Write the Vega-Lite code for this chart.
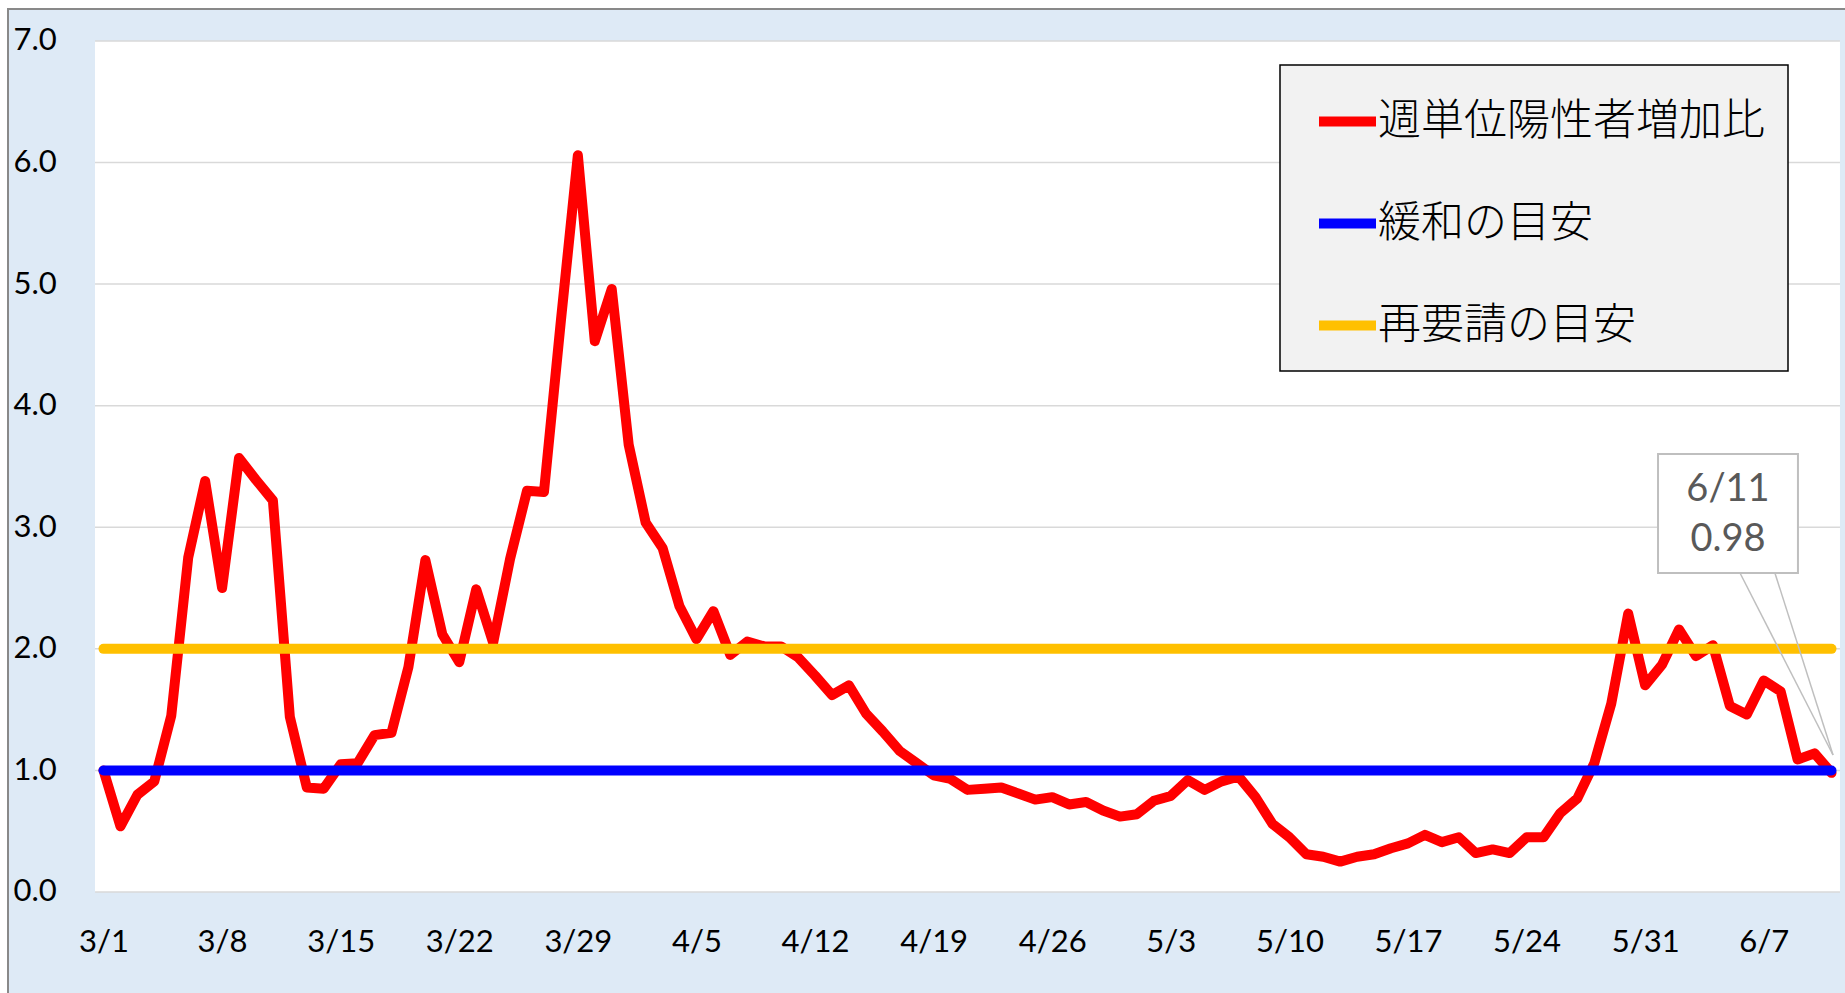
{
  "$schema": "https://vega.github.io/schema/vega-lite/v6.json",
  "width": 1838,
  "height": 985,
  "autosize": {"type": "none"},
  "padding": {"left": 8, "top": 9, "right": 0, "bottom": 0},
  "background": "#FFFFFF",
  "datasets": {
    "ratio": [
      {"date": "3/1", "day": 0, "value": 1.00},
      {"date": "3/2", "day": 1, "value": 0.54},
      {"date": "3/3", "day": 2, "value": 0.80},
      {"date": "3/4", "day": 3, "value": 0.91},
      {"date": "3/5", "day": 4, "value": 1.45},
      {"date": "3/6", "day": 5, "value": 2.75},
      {"date": "3/7", "day": 6, "value": 3.38},
      {"date": "3/8", "day": 7, "value": 2.50},
      {"date": "3/9", "day": 8, "value": 3.57},
      {"date": "3/10", "day": 9, "value": 3.39},
      {"date": "3/11", "day": 10, "value": 3.22},
      {"date": "3/12", "day": 11, "value": 1.44},
      {"date": "3/13", "day": 12, "value": 0.86},
      {"date": "3/14", "day": 13, "value": 0.85},
      {"date": "3/15", "day": 14, "value": 1.05},
      {"date": "3/16", "day": 15, "value": 1.06},
      {"date": "3/17", "day": 16, "value": 1.29},
      {"date": "3/18", "day": 17, "value": 1.31},
      {"date": "3/19", "day": 18, "value": 1.85},
      {"date": "3/20", "day": 19, "value": 2.73},
      {"date": "3/21", "day": 20, "value": 2.12},
      {"date": "3/22", "day": 21, "value": 1.89},
      {"date": "3/23", "day": 22, "value": 2.49},
      {"date": "3/24", "day": 23, "value": 2.05},
      {"date": "3/25", "day": 24, "value": 2.74},
      {"date": "3/26", "day": 25, "value": 3.30},
      {"date": "3/27", "day": 26, "value": 3.29},
      {"date": "3/28", "day": 27, "value": 4.70},
      {"date": "3/29", "day": 28, "value": 6.06},
      {"date": "3/30", "day": 29, "value": 4.53},
      {"date": "3/31", "day": 30, "value": 4.96},
      {"date": "4/1", "day": 31, "value": 3.68},
      {"date": "4/2", "day": 32, "value": 3.04},
      {"date": "4/3", "day": 33, "value": 2.83},
      {"date": "4/4", "day": 34, "value": 2.35},
      {"date": "4/5", "day": 35, "value": 2.08},
      {"date": "4/6", "day": 36, "value": 2.31},
      {"date": "4/7", "day": 37, "value": 1.95},
      {"date": "4/8", "day": 38, "value": 2.06},
      {"date": "4/9", "day": 39, "value": 2.02},
      {"date": "4/10", "day": 40, "value": 2.02},
      {"date": "4/11", "day": 41, "value": 1.93},
      {"date": "4/12", "day": 42, "value": 1.78},
      {"date": "4/13", "day": 43, "value": 1.62},
      {"date": "4/14", "day": 44, "value": 1.70},
      {"date": "4/15", "day": 45, "value": 1.47},
      {"date": "4/16", "day": 46, "value": 1.32},
      {"date": "4/17", "day": 47, "value": 1.16},
      {"date": "4/18", "day": 48, "value": 1.06},
      {"date": "4/19", "day": 49, "value": 0.96},
      {"date": "4/20", "day": 50, "value": 0.93},
      {"date": "4/21", "day": 51, "value": 0.84},
      {"date": "4/22", "day": 52, "value": 0.85},
      {"date": "4/23", "day": 53, "value": 0.86},
      {"date": "4/24", "day": 54, "value": 0.81},
      {"date": "4/25", "day": 55, "value": 0.76},
      {"date": "4/26", "day": 56, "value": 0.78},
      {"date": "4/27", "day": 57, "value": 0.72},
      {"date": "4/28", "day": 58, "value": 0.74},
      {"date": "4/29", "day": 59, "value": 0.67},
      {"date": "4/30", "day": 60, "value": 0.62},
      {"date": "5/1", "day": 61, "value": 0.64},
      {"date": "5/2", "day": 62, "value": 0.75},
      {"date": "5/3", "day": 63, "value": 0.79},
      {"date": "5/4", "day": 64, "value": 0.92},
      {"date": "5/5", "day": 65, "value": 0.84},
      {"date": "5/6", "day": 66, "value": 0.91},
      {"date": "5/7", "day": 67, "value": 0.95},
      {"date": "5/8", "day": 68, "value": 0.78},
      {"date": "5/9", "day": 69, "value": 0.56},
      {"date": "5/10", "day": 70, "value": 0.45},
      {"date": "5/11", "day": 71, "value": 0.31},
      {"date": "5/12", "day": 72, "value": 0.29},
      {"date": "5/13", "day": 73, "value": 0.25},
      {"date": "5/14", "day": 74, "value": 0.29},
      {"date": "5/15", "day": 75, "value": 0.31},
      {"date": "5/16", "day": 76, "value": 0.36},
      {"date": "5/17", "day": 77, "value": 0.40},
      {"date": "5/18", "day": 78, "value": 0.47},
      {"date": "5/19", "day": 79, "value": 0.41},
      {"date": "5/20", "day": 80, "value": 0.45},
      {"date": "5/21", "day": 81, "value": 0.32},
      {"date": "5/22", "day": 82, "value": 0.35},
      {"date": "5/23", "day": 83, "value": 0.32},
      {"date": "5/24", "day": 84, "value": 0.45},
      {"date": "5/25", "day": 85, "value": 0.45},
      {"date": "5/26", "day": 86, "value": 0.65},
      {"date": "5/27", "day": 87, "value": 0.77},
      {"date": "5/28", "day": 88, "value": 1.06},
      {"date": "5/29", "day": 89, "value": 1.55},
      {"date": "5/30", "day": 90, "value": 2.29},
      {"date": "5/31", "day": 91, "value": 1.70},
      {"date": "6/1", "day": 92, "value": 1.87},
      {"date": "6/2", "day": 93, "value": 2.16},
      {"date": "6/3", "day": 94, "value": 1.94},
      {"date": "6/4", "day": 95, "value": 2.03},
      {"date": "6/5", "day": 96, "value": 1.53},
      {"date": "6/6", "day": 97, "value": 1.46},
      {"date": "6/7", "day": 98, "value": 1.74},
      {"date": "6/8", "day": 99, "value": 1.65},
      {"date": "6/9", "day": 100, "value": 1.09},
      {"date": "6/10", "day": 101, "value": 1.14},
      {"date": "6/11", "day": 102, "value": 0.98}
    ],
    "relax": [
      {"date": "3/1", "day": 0, "value": 1.0},
      {"date": "6/11", "day": 102, "value": 1.0}
    ],
    "rerequest": [
      {"date": "3/1", "day": 0, "value": 2.0},
      {"date": "6/11", "day": 102, "value": 2.0}
    ]
  },
  "config": {
    "font": "Lato",
    "view": {"fill": "#DEEAF6", "stroke": "#898989", "strokeWidth": 2},
    "axis": {
      "grid": false, "ticks": false, "domain": false, "title": null,
      "labelFont": "Lato", "labelFontSize": 31, "labelColor": "#000000",
      "labelFlush": false, "labelOverlap": false, "labelPadding": 0
    },
    "legend": {
      "orient": "none",
      "legendX": 1272,
      "legendY": 56,
      "fillColor": "#F2F2F2",
      "strokeColor": "#000000",
      "strokeWidth": 1.5,
      "padding": 23,
      "rowPadding": 46,
      "symbolOffset": 11,
      "symbolType": "stroke",
      "symbolSize": 3249,
      "symbolStrokeWidth": 10,
      "labelFont": "Noto Sans CJK JP",
      "labelFontSize": 43,
      "labelFontWeight": 300,
      "labelColor": "#000000",
      "labelOffset": -3,
      "labelLimit": 1000
    }
  },
  "layer": [
    {
      "data": {"values": [{}]},
      "mark": {"type": "rect", "fill": "#FFFFFF"},
      "encoding": {
        "x": {
          "datum": -0.5, "type": "quantitative",
          "scale": {"type": "linear", "domain": [-5.637, 102.856], "nice": false, "zero": false},
          "axis": {
            "orient": "bottom", "values": [0, 7, 14, 21, 28, 35, 42, 49, 56, 63, 70, 77, 84, 91, 98],
            "labelExpr": "timeFormat(datetime(2020, 2, 1 + datum.value), '%-m/%-d')",
            "title": null, "grid": false, "ticks": false, "domain": false,
            "offset": -52, "labelPadding": 0, "labelBaseline": "middle", "labelAlign": "center",
            "labelFont": "Lato", "labelFontSize": 31, "labelColor": "#000000",
            "labelFlush": false, "labelOverlap": false, "zindex": 2
          }
        },
        "x2": {"datum": 102.5},
        "y": {
          "datum": 0, "type": "quantitative",
          "scale": {"type": "linear", "domain": [-0.839, 7.263], "nice": false, "zero": false},
          "axis": {
            "orient": "left", "values": [0, 1, 2, 3, 4, 5, 6, 7], "format": ".1f",
            "title": null, "grid": false, "ticks": false, "domain": false,
            "offset": -5, "labelPadding": 0, "labelAlign": "left", "labelBaseline": "middle",
            "labelFont": "Lato", "labelFontSize": 31, "labelColor": "#000000",
            "labelFlush": false, "labelOverlap": false, "zindex": 2
          }
        },
        "y2": {"datum": 7}
      }
    },
    {"data": {"values": [{}]}, "mark": {"type": "rule", "color": "#D9D9D9", "strokeWidth": 1.5}, "encoding": {"x": {"datum": -0.5, "type": "quantitative", "axis": {"title": null}}, "x2": {"datum": 102.5}, "y": {"datum": 0, "type": "quantitative", "axis": {"title": null}}}},
    {"data": {"values": [{}]}, "mark": {"type": "rule", "color": "#D9D9D9", "strokeWidth": 1.5}, "encoding": {"x": {"datum": -0.5, "type": "quantitative", "axis": {"title": null}}, "x2": {"datum": 102.5}, "y": {"datum": 1, "type": "quantitative", "axis": {"title": null}}}},
    {"data": {"values": [{}]}, "mark": {"type": "rule", "color": "#D9D9D9", "strokeWidth": 1.5}, "encoding": {"x": {"datum": -0.5, "type": "quantitative", "axis": {"title": null}}, "x2": {"datum": 102.5}, "y": {"datum": 2, "type": "quantitative", "axis": {"title": null}}}},
    {"data": {"values": [{}]}, "mark": {"type": "rule", "color": "#D9D9D9", "strokeWidth": 1.5}, "encoding": {"x": {"datum": -0.5, "type": "quantitative", "axis": {"title": null}}, "x2": {"datum": 102.5}, "y": {"datum": 3, "type": "quantitative", "axis": {"title": null}}}},
    {"data": {"values": [{}]}, "mark": {"type": "rule", "color": "#D9D9D9", "strokeWidth": 1.5}, "encoding": {"x": {"datum": -0.5, "type": "quantitative", "axis": {"title": null}}, "x2": {"datum": 102.5}, "y": {"datum": 4, "type": "quantitative", "axis": {"title": null}}}},
    {"data": {"values": [{}]}, "mark": {"type": "rule", "color": "#D9D9D9", "strokeWidth": 1.5}, "encoding": {"x": {"datum": -0.5, "type": "quantitative", "axis": {"title": null}}, "x2": {"datum": 102.5}, "y": {"datum": 5, "type": "quantitative", "axis": {"title": null}}}},
    {"data": {"values": [{}]}, "mark": {"type": "rule", "color": "#D9D9D9", "strokeWidth": 1.5}, "encoding": {"x": {"datum": -0.5, "type": "quantitative", "axis": {"title": null}}, "x2": {"datum": 102.5}, "y": {"datum": 6, "type": "quantitative", "axis": {"title": null}}}},
    {"data": {"values": [{}]}, "mark": {"type": "rule", "color": "#D9D9D9", "strokeWidth": 1.5}, "encoding": {"x": {"datum": -0.5, "type": "quantitative", "axis": {"title": null}}, "x2": {"datum": 102.5}, "y": {"datum": 7, "type": "quantitative", "axis": {"title": null}}}},
    {
      "data": {"name": "ratio"},
      "mark": {"type": "line", "strokeWidth": 10, "strokeCap": "round", "strokeJoin": "round"},
      "encoding": {
        "x": {"field": "day", "type": "quantitative", "axis": {"title": null}},
        "y": {"field": "value", "type": "quantitative", "axis": {"title": null}},
        "color": {
          "datum": "週単位陽性者増加比", "type": "nominal",
          "scale": {"domain": ["週単位陽性者増加比", "緩和の目安", "再要請の目安"], "range": ["#FF0000", "#0000FF", "#FFC000"]},
          "legend": {"title": null}
        }
      }
    },
    {
      "data": {"name": "relax"},
      "mark": {"type": "line", "strokeWidth": 10, "strokeCap": "round"},
      "encoding": {
        "x": {"field": "day", "type": "quantitative", "axis": {"title": null}},
        "y": {"field": "value", "type": "quantitative", "axis": {"title": null}},
        "color": {"datum": "緩和の目安", "type": "nominal", "legend": {"title": null}}
      }
    },
    {
      "data": {"name": "rerequest"},
      "mark": {"type": "line", "strokeWidth": 10, "strokeCap": "round"},
      "encoding": {
        "x": {"field": "day", "type": "quantitative", "axis": {"title": null}},
        "y": {"field": "value", "type": "quantitative", "axis": {"title": null}},
        "color": {"datum": "再要請の目安", "type": "nominal", "legend": {"title": null}}
      }
    },
    {
      "data": {"values": [{}]},
      "mark": {"type": "rect", "fill": "#FFFFFF", "stroke": "#BFBFBF", "strokeWidth": 2},
      "encoding": {
        "x": {"datum": 91.76, "type": "quantitative", "axis": {"title": null}},
        "x2": {"datum": 100.02},
        "y": {"datum": 3.603, "type": "quantitative", "axis": {"title": null}},
        "y2": {"datum": 2.624}
      }
    },
    {
      "data": {"values": [{}]},
      "mark": {"type": "rule", "color": "#BFBFBF", "strokeWidth": 1.5},
      "encoding": {
        "x": {"datum": 96.6, "type": "quantitative", "axis": {"title": null}},
        "x2": {"datum": 102.09},
        "y": {"datum": 2.624, "type": "quantitative", "axis": {"title": null}},
        "y2": {"datum": 1.127}
      }
    },
    {
      "data": {"values": [{}]},
      "mark": {"type": "rule", "color": "#BFBFBF", "strokeWidth": 1.5},
      "encoding": {
        "x": {"datum": 98.66, "type": "quantitative", "axis": {"title": null}},
        "x2": {"datum": 102.09},
        "y": {"datum": 2.624, "type": "quantitative", "axis": {"title": null}},
        "y2": {"datum": 1.127}
      }
    },
    {
      "data": {"name": "ratio"},
      "transform": [{"filter": "datum.day == 102"}],
      "mark": {"type": "text", "font": "Lato", "fontSize": 38, "color": "#595959", "align": "center", "baseline": "middle"},
      "encoding": {
        "x": {"datum": 95.89, "type": "quantitative", "axis": {"title": null}},
        "y": {"datum": 3.307, "type": "quantitative", "axis": {"title": null}},
        "text": {"field": "date", "type": "nominal"}
      }
    },
    {
      "data": {"name": "ratio"},
      "transform": [{"filter": "datum.day == 102"}],
      "mark": {"type": "text", "font": "Lato", "fontSize": 38, "color": "#595959", "align": "center", "baseline": "middle"},
      "encoding": {
        "x": {"datum": 95.89, "type": "quantitative", "axis": {"title": null}},
        "y": {"datum": 2.895, "type": "quantitative", "axis": {"title": null}},
        "text": {"field": "value", "type": "quantitative", "format": ".2f"}
      }
    }
  ]
}
